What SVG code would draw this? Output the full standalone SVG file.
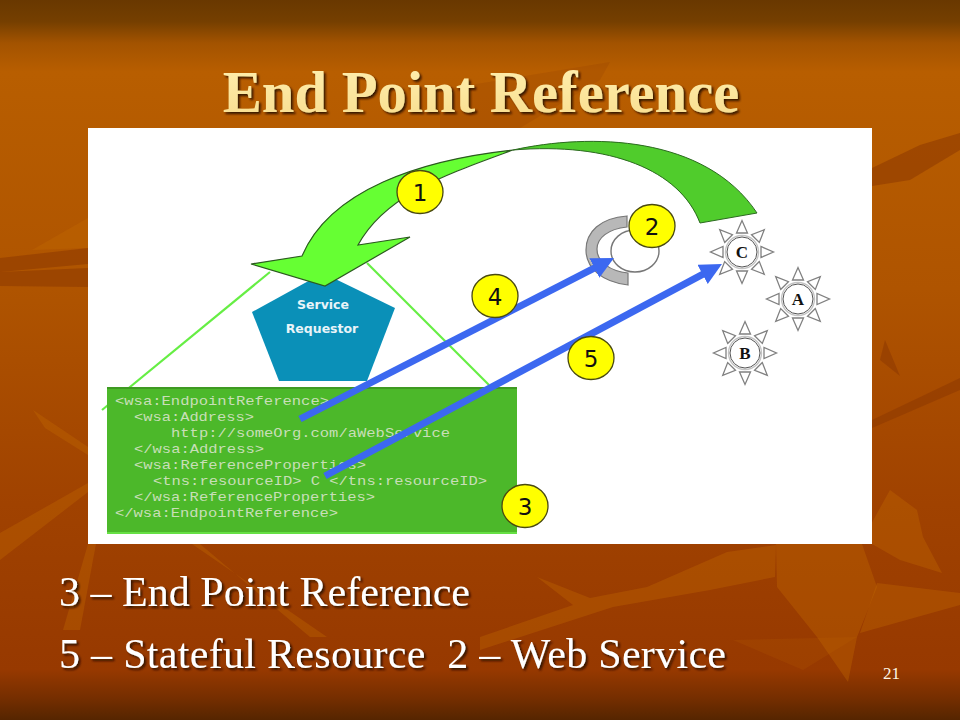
<svg xmlns="http://www.w3.org/2000/svg" width="960" height="720" viewBox="0 0 960 720">
<defs>
<linearGradient id="bg" x1="0" y1="0" x2="0" y2="1">
<stop offset="0" stop-color="#693800"/><stop offset="0.03" stop-color="#753f00"/><stop offset="0.06" stop-color="#a35300"/><stop offset="0.1" stop-color="#b85e00"/><stop offset="0.4" stop-color="#af5400"/><stop offset="0.7" stop-color="#a04200"/><stop offset="0.93" stop-color="#973900"/><stop offset="0.97" stop-color="#752e00"/><stop offset="1" stop-color="#552500"/>
</linearGradient>
<linearGradient id="tt" x1="0" y1="0" x2="0" y2="1"><stop offset="0" stop-color="#fff0b0"/><stop offset="1" stop-color="#f8dc8c"/></linearGradient>
<filter id="sh" x="-5%" y="-20%" width="110%" height="140%"><feDropShadow dx="2" dy="2" stdDeviation="0.8" flood-color="#2a1000" flood-opacity="0.9"/></filter>
<marker id="ah" markerUnits="userSpaceOnUse" markerWidth="24" markerHeight="24" refX="8" refY="11" orient="auto"><path d="M0,0 L22,11 L0,22 Z" fill="#3c68f0"/></marker>
<g id="sun">
<circle r="16.5" fill="#fff" stroke="#c4c4c4" stroke-width="1.4"/><circle r="15" fill="#fff" stroke="#555" stroke-width="1"/>
<g fill="#fff" stroke="#808080" stroke-width="1.3">
<path d="M-5.5,-19 L5.5,-19 L0,-31.5 Z"/>
<path d="M-5.5,-19 L5.5,-19 L0,-31.5 Z" transform="rotate(45)"/><path d="M-5.5,-19 L5.5,-19 L0,-31.5 Z" transform="rotate(90)"/><path d="M-5.5,-19 L5.5,-19 L0,-31.5 Z" transform="rotate(135)"/><path d="M-5.5,-19 L5.5,-19 L0,-31.5 Z" transform="rotate(180)"/><path d="M-5.5,-19 L5.5,-19 L0,-31.5 Z" transform="rotate(225)"/><path d="M-5.5,-19 L5.5,-19 L0,-31.5 Z" transform="rotate(270)"/><path d="M-5.5,-19 L5.5,-19 L0,-31.5 Z" transform="rotate(315)"/>
</g>
</g>
</defs>
<style>
.badge{fill:#ffff00;stroke:#4a4a10;stroke-width:1.3}
.num{font-family:"DejaVu Sans",sans-serif;font-size:23px;fill:#111;text-anchor:middle}
.code{font-family:"Liberation Mono",monospace;font-size:13.5px;fill:#c8dfb8}
.sunl{font-family:"Liberation Serif",serif;font-weight:bold;font-size:17px;fill:#111;text-anchor:middle}
.req{font-family:"DejaVu Sans",sans-serif;font-weight:bold;font-size:12.5px;fill:#e8f4f8;text-anchor:middle}
.body{font-family:"Liberation Serif",serif;font-size:42px;fill:#fff;filter:url(#sh)}
.lf{fill:#c26a00;opacity:.35}
.dk{fill:#8c3800;opacity:.55}
</style>
<rect width="960" height="720" fill="url(#bg)"/>
<g id="background">
<path class="lf" d="M32,250 L88,218 L88,248 Z"/>
<path class="dk" d="M0,258 L88,248 L88,264 L0,272 Z"/>
<path class="dk" d="M0,272 L88,268 L88,287 L0,286 Z"/>
<path class="lf" d="M33,410 L88,447 L88,455 L45,428 Z"/>
<path class="lf" d="M0,533 L88,483 L88,492 L0,560 Z"/>
<path class="lf" d="M88,544 L96,544 L80,630 L63,630 Z"/>
<path class="lf" d="M192,544 L327,637 L310,637 L200,544 Z"/>
<path class="dk" d="M440,90 L610,62 L600,80 L520,128 L440,128 Z" style="opacity:.18"/>
<path class="dk" d="M872,168 L920,145 L960,133 L960,150 L910,180 L872,186 Z"/>
<path class="dk" d="M872,420 L960,378 L960,390 L872,428 Z"/>
<path class="dk" d="M880,360 L900,376 L885,340 Z"/>
<path class="lf" d="M776,544 L862,544 L877,587 L857,637 L848,682 L817,637 L777,587 Z"/>
<path class="lf" d="M537,577 L573,605 L480,637 L480,650 L613,607 L710,590 L775,577 L776,545 L727,552 L647,587 L590,598 Z"/>
<path class="lf" d="M877,583 L960,593 L960,605 L860,633 Z"/>
<path class="lf" d="M860,544 L890,490 L917,510 L923,537 L942,573 L900,560 L872,544 Z"/>
<path class="lf" d="M733,640 L857,637 L803,670 Z" style="opacity:.15"/>
</g>
<text x="481" y="112" font-family="Liberation Serif, serif" font-weight="bold" font-size="58.6" fill="url(#tt)" text-anchor="middle" filter="url(#sh)">End Point Reference</text>
<rect x="88" y="128" width="784" height="416" fill="#fff"/>
<g id="web-lines" fill="none" stroke="#66ee44" stroke-width="2.2">
<path d="M270,272 L102,410"/><path d="M367,263 L489,385"/>
</g>
<g id="service-requestor">
<path d="M323,273 L395,308 L367,381 L279,381 L252,312 Z" fill="#0a90b8"/>
<text class="req" x="323" y="309">Service</text>
<text class="req" x="322" y="333">Requestor</text>
</g>
<g id="epr">
<rect x="107" y="387" width="410" height="146" fill="#4cb82a"/>
<rect x="107" y="387" width="410" height="2" fill="#3f9a22"/>
<rect x="107" y="532" width="410" height="2" fill="#66e044"/>
<text class="code" x="115" y="405" textLength="214" lengthAdjust="spacingAndGlyphs">&lt;wsa:EndpointReference&gt;</text>
<text class="code" x="134" y="421" textLength="120" lengthAdjust="spacingAndGlyphs">&lt;wsa:Address&gt;</text>
<text class="code" x="171" y="437" textLength="279" lengthAdjust="spacingAndGlyphs">http://someOrg.com/aWebService</text>
<text class="code" x="134" y="453" textLength="130" lengthAdjust="spacingAndGlyphs">&lt;/wsa:Address&gt;</text>
<text class="code" x="134" y="469" textLength="232" lengthAdjust="spacingAndGlyphs">&lt;wsa:ReferenceProperties&gt;</text>
<text class="code" x="153" y="485" textLength="334" lengthAdjust="spacingAndGlyphs">&lt;tns:resourceID&gt; C &lt;/tns:resourceID&gt;</text>
<text class="code" x="134" y="501" textLength="241" lengthAdjust="spacingAndGlyphs">&lt;/wsa:ReferenceProperties&gt;</text>
<text class="code" x="115" y="517" textLength="223" lengthAdjust="spacingAndGlyphs">&lt;/wsa:EndpointReference&gt;</text>
</g>
<g id="web-service">
<path d="M627,216 C600,218 586,232 586,250 C586,268 602,282 628,285 L628,273 C610,271 597,262 597,249 C597,238 608,229 627,227 Z" fill="#b8b8b8" stroke="#777" stroke-width="1.2"/>
<ellipse cx="635" cy="251" rx="24" ry="21" fill="#fff" stroke="#777" stroke-width="1.4"/>
</g>
<g id="sun-c"><use href="#sun" x="742" y="252"/><text class="sunl" x="742" y="258">C</text></g>
<g id="sun-a"><use href="#sun" x="798" y="299"/><text class="sunl" x="798" y="305">A</text></g>
<g id="sun-b"><use href="#sun" x="745" y="353"/><text class="sunl" x="745" y="359">B</text></g>
<g id="connectors">
<path d="M513,150 C590,133 705,135 757,213 L700,223 C680,170 610,142 513,150 Z" fill="#50cc2c" stroke="#2c6a20" stroke-width="1"/>
<path d="M513,150 C420,160 330,190 302,256 L251,264 L325,286 L410,237 L358,245 C385,195 445,175 513,150 Z" fill="#66ff33" stroke="#2c5a20" stroke-width="1.2" stroke-linejoin="miter"/>
<path d="M300,419 L601.5,264.4" fill="none" stroke="#3c68f0" stroke-width="7" marker-end="url(#ah)"/>
<path d="M325,476 L709.6,270.6" fill="none" stroke="#3c68f0" stroke-width="7" marker-end="url(#ah)"/>
</g>
<g id="badge-1"><ellipse class="badge" cx="420" cy="192" rx="23" ry="21.5"/><text class="num" x="420" y="200.5">1</text></g>
<g id="badge-2"><ellipse class="badge" cx="652" cy="226" rx="23" ry="21.5"/><text class="num" x="652" y="234.5">2</text></g>
<g id="badge-3"><ellipse class="badge" cx="525" cy="506" rx="23" ry="21.5"/><text class="num" x="525" y="514.5">3</text></g>
<g id="badge-4"><ellipse class="badge" cx="495" cy="296" rx="23" ry="21.5"/><text class="num" x="495" y="304.5">4</text></g>
<g id="badge-5"><ellipse class="badge" cx="591" cy="358" rx="23" ry="21.5"/><text class="num" x="591" y="366.5">5</text></g>
<text class="body" x="59" y="606" textLength="411">3 – End Point Reference</text>
<text class="body" x="59" y="668" xml:space="preserve" textLength="667">5 – Stateful Resource  2 – Web Service</text>
<text x="883" y="679" font-family="Liberation Serif, serif" font-size="17" fill="#fff6e6">21</text>
</svg>
